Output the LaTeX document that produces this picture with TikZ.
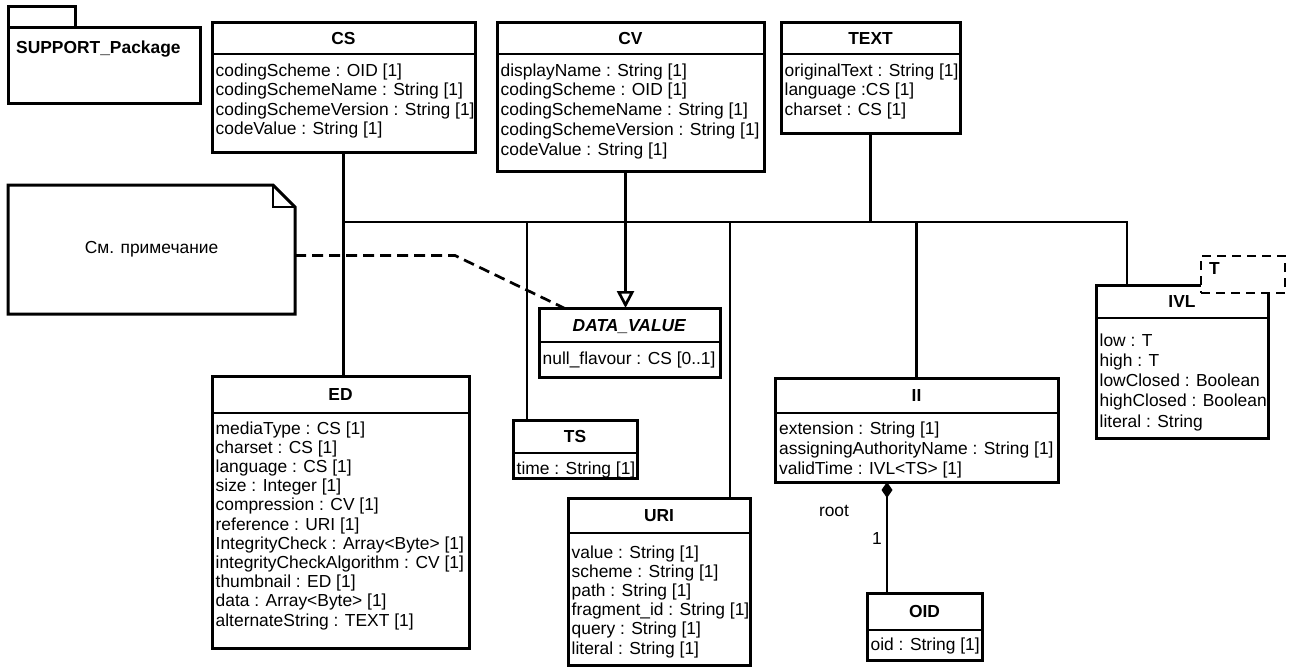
\documentclass[tikz,border=0pt]{standalone}
\usepackage{fontspec}
\setmainfont{Liberation Sans}
\usetikzlibrary{arrows.meta,calc}
\newcommand\attrs[2][19.5]{{\fontsize{17.4}{#1}\selectfont\begin{tabular}[t]{@{}l@{}}#2\end{tabular}}}
\tikzset{
 cls/.style={draw, line width=3pt, fill=white, inner sep=0pt, outer sep=0pt},
 outline/.style={line width=3pt},
 sepline/.style={line width=2pt},
 hdr/.style={anchor=base, inner sep=0pt, font=\fontsize{17.4}{19.5}\selectfont\bfseries},
 att/.style={anchor=base west, inner sep=0pt},
 conn/.style={line width=2.7pt},
 dashline/.style={line width=2.7pt, dash pattern=on 11pt off 6pt},
 tbox/.style={draw, line width=2.7pt, dash pattern=on 9pt off 6pt, fill=white, inner sep=0pt, outer sep=0pt},
 lbl/.style={inner sep=0pt, anchor=base}
}
\newcommand\umlclass[7]{%
 \node[cls, minimum width={#4-#2}, minimum height={#5-#3}, anchor=north west] (#1) at (#2,#3) {};
 \draw[sepline] (#2,#6) -- (#4,#6);
 \node[hdr] (#1-h) at ({(#2+#4)/2},{(#3+#6)/2+6}) {#7};
}
\begin{document}
\begin{tikzpicture}[x=1pt,y=-1pt,font=\fontsize{17.4}{19.5}\selectfont]
\useasboundingbox (0,0) rectangle (1291,667);
% package
\node[cls, minimum width=67, minimum height=21, anchor=north west] (pkgtab) at (8,6) {};
\node[cls, minimum width=192, minimum height=76, anchor=north west] (pkg) at (8,27) {};
\node[hdr, anchor=base west] (pkg-t) at (16,53) {SUPPORT\_Package};
% classes
\umlclass{cs}{212}{22}{475}{152}{54}{CS}
\node[att] (cs-a) at (215.5,76) {\attrs{codingScheme : OID [1]\\codingSchemeName : String [1]\\codingSchemeVersion : String [1]\\codeValue : String [1]}};
\umlclass{cv}{497}{22}{764}{171}{54}{CV}
\node[att] (cv-a) at (500.5,76) {\attrs[19.8]{displayName : String [1]\\codingScheme : OID [1]\\codingSchemeName : String [1]\\codingSchemeVersion : String [1]\\codeValue : String [1]}};
\umlclass{txt}{781}{22}{960}{133}{54}{TEXT}
\node[att] (txt-a) at (784.5,76) {\attrs{originalText : String [1]\\language :CS [1]\\charset : CS [1]}};
\umlclass{dv}{539}{308}{720}{377}{342}{\textit{DATA\_VALUE}}
\node[att] (dv-a) at (542.5,364) {\attrs{null\_flavour : CS [0..1]}};
\umlclass{ed}{212}{376}{469}{648}{413}{ED}
\node[att] (ed-a) at (215.5,434) {\attrs[19.2]{mediaType : CS [1]\\charset : CS [1]\\language : CS [1]\\size : Integer [1]\\compression : CV [1]\\reference : URI [1]\\IntegrityCheck : Array<Byte> [1]\\integrityCheckAlgorithm : CV [1]\\thumbnail : ED [1]\\data : Array<Byte> [1]\\alternateString : TEXT [1]}};
\umlclass{ts}{513}{420}{637}{478}{453}{TS}
\node[att] (ts-a) at (516.5,474) {\attrs{time : String [1]}};
\umlclass{uri}{568}{498}{750}{665}{533}{URI}
\node[att] (uri-a) at (571.5,558) {\attrs[19.2]{value : String [1]\\scheme : String [1]\\path : String [1]\\fragment\_id : String [1]\\query : String [1]\\literal : String [1]}};
\umlclass{ii}{775}{378}{1058}{482}{413}{II}
\node[att] (ii-a) at (779,434) {\attrs[20]{extension : String [1]\\assigningAuthorityName : String [1]\\validTime : IVL<TS> [1]}};
\umlclass{oid}{867}{593}{982}{660}{630}{OID}
\node[att] (oid-a) at (870.5,650) {\attrs{oid : String [1]}};
\umlclass{ivl}{1096}{285}{1268}{438}{318}{IVL}
\node[att] (ivl-a) at (1099.5,346) {\attrs[20.3]{low : T\\high : T\\lowClosed : Boolean\\highClosed : Boolean\\literal : String}};
\node[tbox, minimum width=84, minimum height=37, anchor=north west] (ivl-t) at (1201,256) {};
\node[hdr, anchor=base west] (ivl-tt) at (1209,274) {T};
% note
\node[inner sep=0pt, outer sep=0pt, minimum width=287, minimum height=129, anchor=north west] (note) at (8,185) {См. примечание};
\draw[outline] (note.north west) -- ($(note.north east)+(-22,0)$) -- ($(note.north east)+(0,22)$) -- (note.south east) -- (note.south west) -- cycle;
\draw[conn] ($(note.north east)+(-22,0)$) -- ($(note.north east)+(-22,22)$) -- ($(note.north east)+(0,22)$);
% connectors
\coordinate (bus) at (0,222);
\coordinate (cvout) at ($(cv.south)+(-5,0)$);
\coordinate (tsin) at ($(ts.north west)+(14,0)$);
\coordinate (uriin) at ($(uri.north east)+(-20,0)$);
\coordinate (ivlin) at ($(ivl.north west)+(31,0)$);
\coordinate (iiout) at ($(ii.south west)+(112,0)$);
\draw[conn] (cs.south) -- (cs.south |- ed.north);
\draw[conn] (cs.south |- bus) -| (ivlin);
\draw[conn] (txt.south) -- (txt.south |- bus);
\draw[conn] (tsin |- bus) -- (tsin);
\draw[conn] (uriin |- bus) -- (uriin);
\draw[conn] (ii.north |- bus) -- (ii.north);
\draw[conn, -{Triangle[open, length=17pt, width=17pt]}] (cvout) -- (cvout |- dv.north);
\draw[dashline] ($(note.east)+(0,6)$) -- ++(160,0) -- ($(dv.north west)+(25,0)$);
\draw[conn, {Diamond[length=16pt, width=11pt]}-] (iiout) -- (iiout |- oid.north);
\node[lbl] (root) at (834,516) {root};
\node[lbl] (one) at (877,544) {1};
\end{tikzpicture}
\end{document}
